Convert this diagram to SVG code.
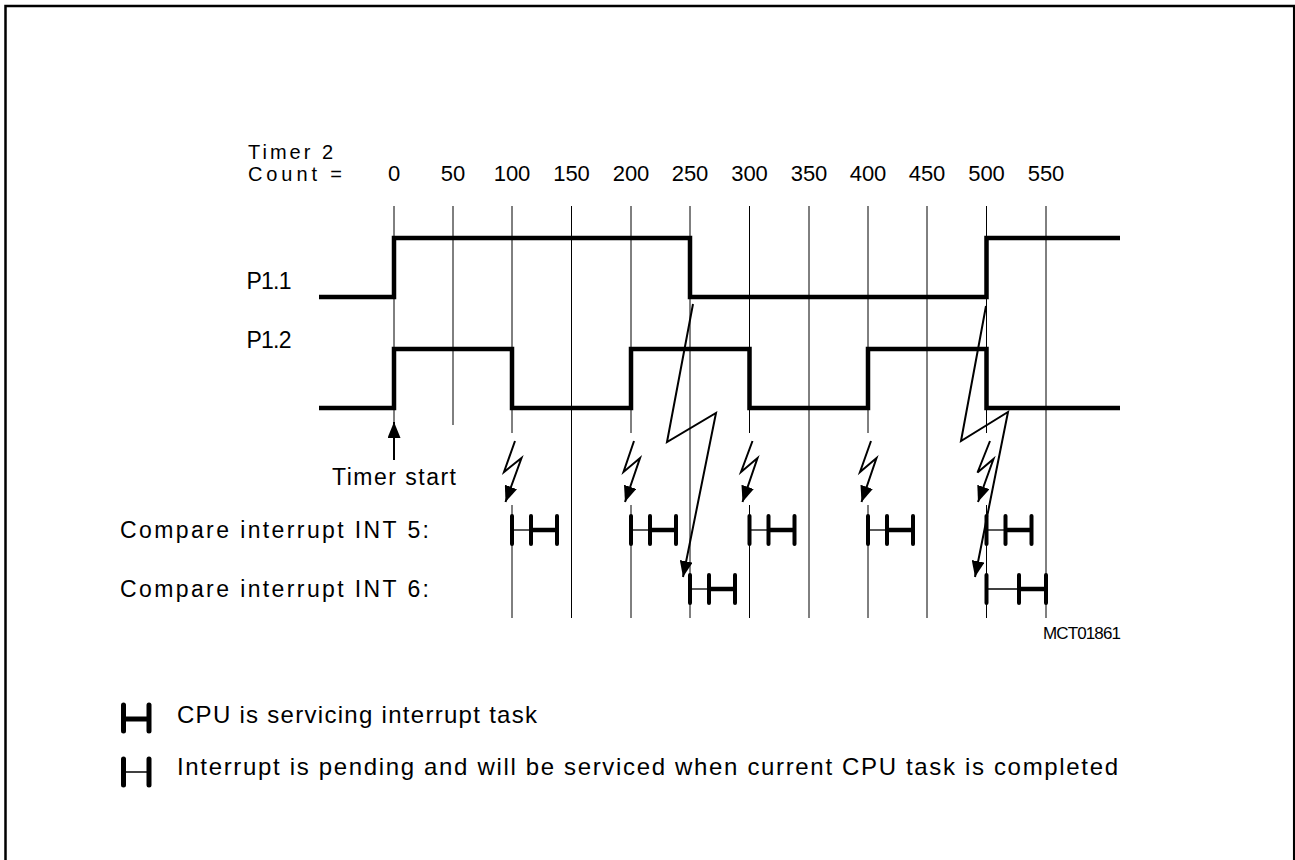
<svg xmlns="http://www.w3.org/2000/svg" width="1295" height="860" viewBox="0 0 1295 860">
<style>
text{font-family:"Liberation Sans",Arial,sans-serif;fill:#000}
.grid{stroke:#000;stroke-width:1;fill:none}
.sig{stroke:#000;stroke-width:4.5;fill:none;stroke-linejoin:miter;stroke-linecap:butt}
.bolt{stroke:#000;stroke-width:2;fill:none;stroke-linejoin:miter}
.bar{stroke:#000;stroke-width:4;stroke-linecap:round}
.thk{stroke:#000;stroke-width:4.5}
.thn{stroke:#000;stroke-width:1.3}
.num{font-size:22px;text-anchor:middle}
</style>
<defs>
<marker id="ah" viewBox="0 0 16 13" refX="16" refY="6.5" markerWidth="16" markerHeight="13" markerUnits="userSpaceOnUse" orient="auto">
<path d="M0,0 L16,6.5 L0,13 z" fill="#000"/>
</marker>
<g id="hs">
<line class="thn" x1="0" y1="0" x2="19" y2="0"/>
<line class="thk" x1="19" y1="0" x2="45" y2="0"/>
<line class="bar" x1="0" y1="-14" x2="0" y2="14"/>
<line class="bar" x1="19" y1="-14" x2="19" y2="14"/>
<line class="bar" x1="45" y1="-14" x2="45" y2="14"/>
</g>
</defs>
<rect x="5.5" y="6" width="1288.7" height="900" fill="none" stroke="#000" stroke-width="2.5"/>

<g id="grid">
<line class="grid" x1="394" y1="206" x2="394" y2="422"/>
<line class="grid" x1="453" y1="206" x2="453" y2="425"/>
<line class="grid" x1="512" y1="206" x2="512" y2="433"/>
<line class="grid" x1="512" y1="505" x2="512" y2="618"/>
<line class="grid" x1="571.5" y1="206" x2="571.5" y2="618"/>
<line class="grid" x1="631" y1="206" x2="631" y2="433"/>
<line class="grid" x1="631" y1="505" x2="631" y2="618"/>
<line class="grid" x1="690" y1="206" x2="690" y2="618"/>
<line class="grid" x1="749.5" y1="206" x2="749.5" y2="433"/>
<line class="grid" x1="749.5" y1="505" x2="749.5" y2="618"/>
<line class="grid" x1="809" y1="206" x2="809" y2="618"/>
<line class="grid" x1="868" y1="206" x2="868" y2="433"/>
<line class="grid" x1="868" y1="505" x2="868" y2="618"/>
<line class="grid" x1="927" y1="206" x2="927" y2="618"/>
<line class="grid" x1="986.5" y1="206" x2="986.5" y2="433"/>
<line class="grid" x1="986.5" y1="505" x2="986.5" y2="618"/>
<line class="grid" x1="1046" y1="206" x2="1046" y2="618"/>
</g>

<g id="labels">
<text x="248" y="159" font-size="20" textLength="85">Timer 2</text>
<text x="248" y="181" font-size="20" textLength="94">Count =</text>
<text class="num" x="394" y="181">0</text>
<text class="num" x="453" y="181">50</text>
<text class="num" x="512" y="181">100</text>
<text class="num" x="571.5" y="181">150</text>
<text class="num" x="631" y="181">200</text>
<text class="num" x="690" y="181">250</text>
<text class="num" x="749.5" y="181">300</text>
<text class="num" x="809" y="181">350</text>
<text class="num" x="868" y="181">400</text>
<text class="num" x="927" y="181">450</text>
<text class="num" x="986.5" y="181">500</text>
<text class="num" x="1046" y="181">550</text>
<text x="246.5" y="289" font-size="23" textLength="45">P1.1</text>
<text x="246.5" y="348" font-size="23" textLength="45">P1.2</text>
<text x="332" y="485" font-size="23" textLength="124">Timer start</text>
<text x="120" y="538" font-size="23" textLength="309">Compare interrupt INT 5:</text>
<text x="120" y="597" font-size="23" textLength="309">Compare interrupt INT 6:</text>
<text x="1043" y="639" font-size="17" textLength="78">MCT01861</text>
</g>

<g id="P1_1">
<path class="sig" d="M319,297 H394 V238 H690 V297 H986.5 V238 H1120"/>
</g>
<g id="P1_2">
<path class="sig" d="M319,408 H394 V349 H512 V408 H631 V349 H749.5 V408 H868 V349 H986.5 V408 H1120"/>
</g>

<g id="connectors">
<line class="bolt" x1="394" y1="460" x2="394" y2="422" marker-end="url(#ah)"/>
<polyline class="bolt" points="515,441 504,472 521.5,458 505.5,502" marker-end="url(#ah)"/>
<polyline class="bolt" points="634,441 623.5,472 640,458 625,502" marker-end="url(#ah)"/>
<polyline class="bolt" points="752.5,441 741,472 757.5,458 742.5,502" marker-end="url(#ah)"/>
<polyline class="bolt" points="871,441 860,472 876.5,458 861.5,502" marker-end="url(#ah)"/>
<polyline class="bolt" points="990,441 977.5,472.5 993.5,459 978,502" marker-end="url(#ah)"/>
<polyline class="bolt" points="693,304 667,442 716,413 683,577" marker-end="url(#ah)"/>
<polyline class="bolt" points="986,306 961,441 1008,412 975,577" marker-end="url(#ah)"/>
</g>

<g id="int5">
<use href="#hs" x="512" y="530"/>
<use href="#hs" x="631" y="530"/>
<use href="#hs" x="749.5" y="530"/>
<use href="#hs" x="868" y="530"/>
<use href="#hs" x="986.5" y="530"/>
</g>
<g id="int6">
<use href="#hs" x="690" y="589"/>
<line class="thn" x1="986.5" y1="589" x2="1019" y2="589"/>
<line class="thk" x1="1019" y1="589" x2="1046" y2="589"/>
<line class="bar" x1="986.5" y1="575" x2="986.5" y2="603"/>
<line class="bar" x1="1019" y1="575" x2="1019" y2="603"/>
<line class="bar" x1="1046" y1="575" x2="1046" y2="603"/>
</g>

<g id="legend">
<g id="legend1">
<line stroke="#000" stroke-width="5" x1="123.5" y1="719" x2="149" y2="719"/>
<line stroke="#000" stroke-width="5" stroke-linecap="round" x1="123.5" y1="705" x2="123.5" y2="731"/>
<line stroke="#000" stroke-width="5" stroke-linecap="round" x1="149" y1="705" x2="149" y2="731"/>
<text x="177" y="723" font-size="24" textLength="360">CPU is servicing interrupt task</text>
</g>
<g id="legend2">
<line stroke="#000" stroke-width="1.5" x1="123.5" y1="772" x2="149" y2="772"/>
<line stroke="#000" stroke-width="5" stroke-linecap="round" x1="123.5" y1="759" x2="123.5" y2="785"/>
<line stroke="#000" stroke-width="5" stroke-linecap="round" x1="149" y1="759" x2="149" y2="785"/>
<text x="177" y="775" font-size="24" textLength="941">Interrupt is pending and will be serviced when current CPU task is completed</text>
</g>
</g>
</svg>
